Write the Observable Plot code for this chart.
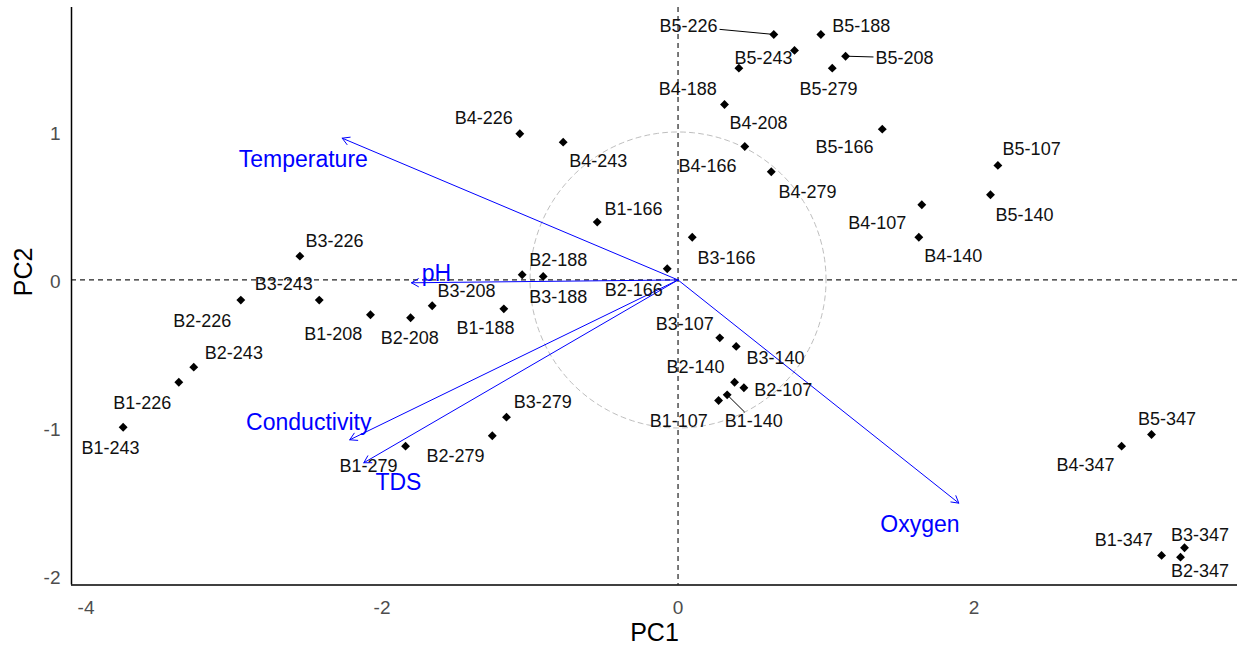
<!DOCTYPE html>
<html>
<head>
<meta charset="utf-8">
<script src="https://cdn.jsdelivr.net/npm/d3@7"></script>
<script src="https://cdn.jsdelivr.net/npm/@observablehq/plot@0.6"></script>
<style>
  body { margin: 0; background: #fff; }
  #chart svg { display: block; }
</style>
</head>
<body>
<div id="chart"></div>
<script>
// ---- data ----
const sampleNames = [
  "B1-107","B1-140","B1-166","B1-188","B1-208","B1-226","B1-243","B1-279","B1-347",
  "B2-107","B2-140","B2-166","B2-188","B2-208","B2-226","B2-243","B2-279","B2-347",
  "B3-107","B3-140","B3-166","B3-188","B3-208","B3-226","B3-243","B3-279","B3-347",
  "B4-107","B4-140","B4-166","B4-188","B4-208","B4-226","B4-243","B4-279","B4-347",
  "B5-107","B5-140","B5-166","B5-188","B5-208","B5-226","B5-243","B5-279","B5-347"
];
const pc1 = [
  0.274, 0.332, -0.546, -1.177, -2.078, -3.373, -3.749, -1.841, 3.267,
  0.445, 0.382, -0.073, -1.053, -1.807, -2.954, -3.272, -1.255, 3.395,
  0.282, 0.393, 0.096, -0.911, -1.661, -2.555, -2.424, -1.159, 3.422,
  1.647, 1.627, 0.451, 0.411, 0.314, -1.069, -0.776, 0.630, 2.997,
  2.161, 2.111, 1.380, 0.965, 1.132, 0.647, 0.787, 1.042, 3.199
];
const pc2 = [
  -0.814, -0.776, 0.391, -0.195, -0.235, -0.691, -0.995, -1.123, -1.861,
  -0.728, -0.691, 0.076, 0.035, -0.255, -0.136, -0.589, -1.053, -1.873,
  -0.391, -0.449, 0.289, 0.024, -0.174, 0.161, -0.136, -0.927, -1.809,
  0.508, 0.289, 0.902, 1.431, 1.186, 0.988, 0.931, 0.731, -1.123,
  0.774, 0.576, 1.019, 1.659, 1.512, 1.659, 1.551, 1.431, -1.044
];
// repelled label positions (PC units)
const labelPC1 = [
  0.005, 0.512, -0.301, -1.301, -2.330, -3.620, -3.834, -2.091, 3.012,
  0.711, 0.118, -0.299, -0.809, -1.812, -3.215, -3.001, -1.503, 3.526,
  0.046, 0.659, 0.328, -0.809, -1.429, -2.321, -2.664, -0.914, 3.526,
  1.346, 1.859, 0.199, 0.066, 0.544, -1.312, -0.539, 0.875, 2.753,
  2.389, 2.341, 1.125, 1.238, 1.530, 0.071, 0.578, 1.017, 3.304
];
const labelPC2 = [
  -0.954, -0.954, 0.476, -0.326, -0.368, -0.830, -1.134, -1.260, -1.760,
  -0.742, -0.589, -0.071, 0.136, -0.393, -0.278, -0.492, -1.193, -1.968,
  -0.296, -0.528, 0.147, -0.116, -0.078, 0.262, -0.030, -0.828, -1.722,
  0.386, 0.159, 0.767, 1.292, 1.057, 1.096, 0.801, 0.591, -1.253,
  0.882, 0.436, 0.895, 1.715, 1.501, 1.713, 1.497, 1.287, -0.938
];
const segmentSamples = ["B5-226", "B5-208", "B1-140"];

const variables = ["Temperature", "pH", "Conductivity", "TDS", "Oxygen"];
const loadPC1 = [-2.269, -1.801, -2.218, -2.123, 1.897];
const loadPC2 = [0.958, -0.019, -1.080, -1.235, -1.508];
const varLabelPC1 = [-2.532, -1.632, -2.495, -1.889, 1.634];
const varLabelPC2 = [0.812, 0.046, -0.961, -1.368, -1.652];

const xTicks = [-4, -2, 0, 2];
const yTicks = [-2, -1, 0, 1];
const circleRadius = 1;

// ---- build tables ----
const samples = sampleNames.map((name, i) => ({
  name, x: pc1[i], y: pc2[i], lx: labelPC1[i], ly: labelPC2[i]
}));
const loadings = variables.map((v, i) => ({
  name: v, x: loadPC1[i], y: loadPC2[i], lx: varLabelPC1[i], ly: varLabelPC2[i]
}));

const W = 1245, H = 653;
const mL = 71, mR = 8, mT = 7, mB = 68.5;
const xDom = [-4.098, 3.780], yDom = [-2.061, 1.841];
const pxPerUnitX = (W - mL - mR) / (xDom[1] - xDom[0]);
const pxPerUnitY = (H - mT - mB) / (yDom[1] - yDom[0]);

// segment from point to edge of label box (approximate text box)
const halfW = 31 / pxPerUnitX, halfH = 9 / pxPerUnitY;
const segments = samples.filter(d => segmentSamples.includes(d.name)).map(d => {
  const dx = d.x - d.lx, dy = d.y - d.ly;
  const t = Math.min(Math.abs(dx) > 0 ? halfW / Math.abs(dx) : Infinity,
                     Math.abs(dy) > 0 ? halfH / Math.abs(dy) : Infinity);
  return {x1: d.x, y1: d.y, x2: d.lx + dx * t, y2: d.ly + dy * t};
});

const circle = d3.range(0, 361, 2).map(a => ({
  x: circleRadius * Math.cos(a * Math.PI / 180),
  y: circleRadius * Math.sin(a * Math.PI / 180)
}));

const font = "'Liberation Sans', Arial, sans-serif";
const blue = "#0000FF";
const fmt = d => String(d);

const chart = Plot.plot({
  width: W, height: H,
  marginLeft: mL, marginRight: mR, marginTop: mT, marginBottom: mB,
  style: {fontFamily: font, background: "#fff"},
  x: {domain: xDom},
  y: {domain: yDom},
  marks: [
    Plot.line(circle, {x: "x", y: "y", stroke: "#BEBEBE", strokeWidth: 1, strokeDasharray: "5,4"}),
    Plot.ruleY([0], {stroke: "#222", strokeWidth: 1.2, strokeDasharray: "5,4"}),
    Plot.ruleX([0], {stroke: "#222", strokeWidth: 1.2, strokeDasharray: "5,4"}),
    Plot.ruleX([xDom[0]], {stroke: "#000", strokeWidth: 1.5}),
    Plot.ruleY([yDom[0]], {stroke: "#000", strokeWidth: 1.5}),
    Plot.axisX(xTicks, {tickSize: 0, tickPadding: 15, fontSize: 19, fill: "#4D4D4D", label: null, tickFormat: fmt}),
    Plot.axisY(yTicks, {tickSize: 0, tickPadding: 11, fontSize: 19, fill: "#4D4D4D", label: null, dy: 2, tickFormat: fmt}),
    Plot.text(["PC1"], {frameAnchor: "bottom", dy: 56, fontSize: 25, fill: "#000"}),
    Plot.text(["PC2"], {frameAnchor: "left", dx: -48, rotate: -90, fontSize: 25, fill: "#000"}),
    Plot.arrow(loadings, {x1: () => 0, y1: () => 0, x2: "x", y2: "y", stroke: blue, strokeWidth: 1, headLength: 12, headAngle: 60}),
    Plot.link(segments, {x1: "x1", y1: "y1", x2: "x2", y2: "y2", stroke: "#000", strokeWidth: 1}),
    Plot.dot(samples, {x: "x", y: "y", symbol: "diamond2", r: 4, fill: "#000", stroke: "none"}),
    Plot.text(samples, {x: "lx", y: "ly", text: "name", fontSize: 18, fill: "#111"}),
    Plot.text(loadings, {x: "lx", y: "ly", text: "name", fontSize: 23, fill: blue})
  ]
});
document.getElementById("chart").appendChild(chart);
</script>
</body>
</html>
